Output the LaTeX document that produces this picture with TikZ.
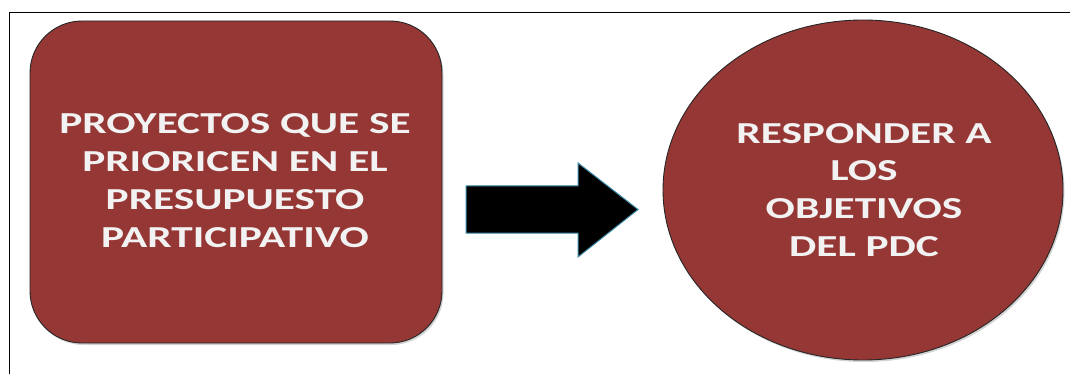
\documentclass[tikz,border=0pt]{standalone}
\usepackage{fontspec}
\setmainfont{Carlito}
\newfontfamily\widefont[FakeStretch=1.42]{Carlito}
\usetikzlibrary{shadows}
\definecolor{boxred}{HTML}{953735}
\definecolor{txtwhite}{HTML}{F2F2F2}
\definecolor{arrowline}{HTML}{3A8AA8}
\tikzset{
  redshape/.style={fill=boxred, draw=black!85, line width=0.9pt,
    drop shadow={opacity=0.35, shadow xshift=1.5pt, shadow yshift=-2pt}},
  whitelabel/.style={text=txtwhite, font=\widefont\fontsize{30.5}{37.8}\selectfont\bfseries,
    align=center, inner sep=0pt},
  frameline/.style={draw=black, line width=1.5pt}
}
\begin{document}
\begin{tikzpicture}[x=1pt,y=-1pt]
\useasboundingbox (0,0) rectangle (1070,374);
% frame (continues beyond the picture on the right and bottom)
\draw[frameline] (1075,12.5) -- (9.5,12.5) -- (9.5,380);
% left rounded box
\node[redshape, rectangle, rounded corners=52pt, minimum width=412pt, minimum height=322pt,
  inner sep=0pt] (box) at (236,182) {};
\node[whitelabel] (boxtext) at (235,180.5) {PROYECTOS QUE SE\\PRIORICEN EN EL\\PRESUPUESTO\\PARTICIPATIVO};
% right ellipse
\path[redshape] (863,190) ellipse [x radius=200, y radius=170];
\coordinate (ellc) at (863,190);
\node[whitelabel] (elltext) at (864,190) {RESPONDER A\\LOS\\OBJETIVOS\\DEL PDC};
% block arrow
\filldraw[fill=black, draw=arrowline, line width=1pt]
  (466,186) -- (578,186) -- (578,163) -- (638,209.5) -- (578,257) -- (578,233) -- (466,233) -- cycle;
\end{tikzpicture}
\end{document}
